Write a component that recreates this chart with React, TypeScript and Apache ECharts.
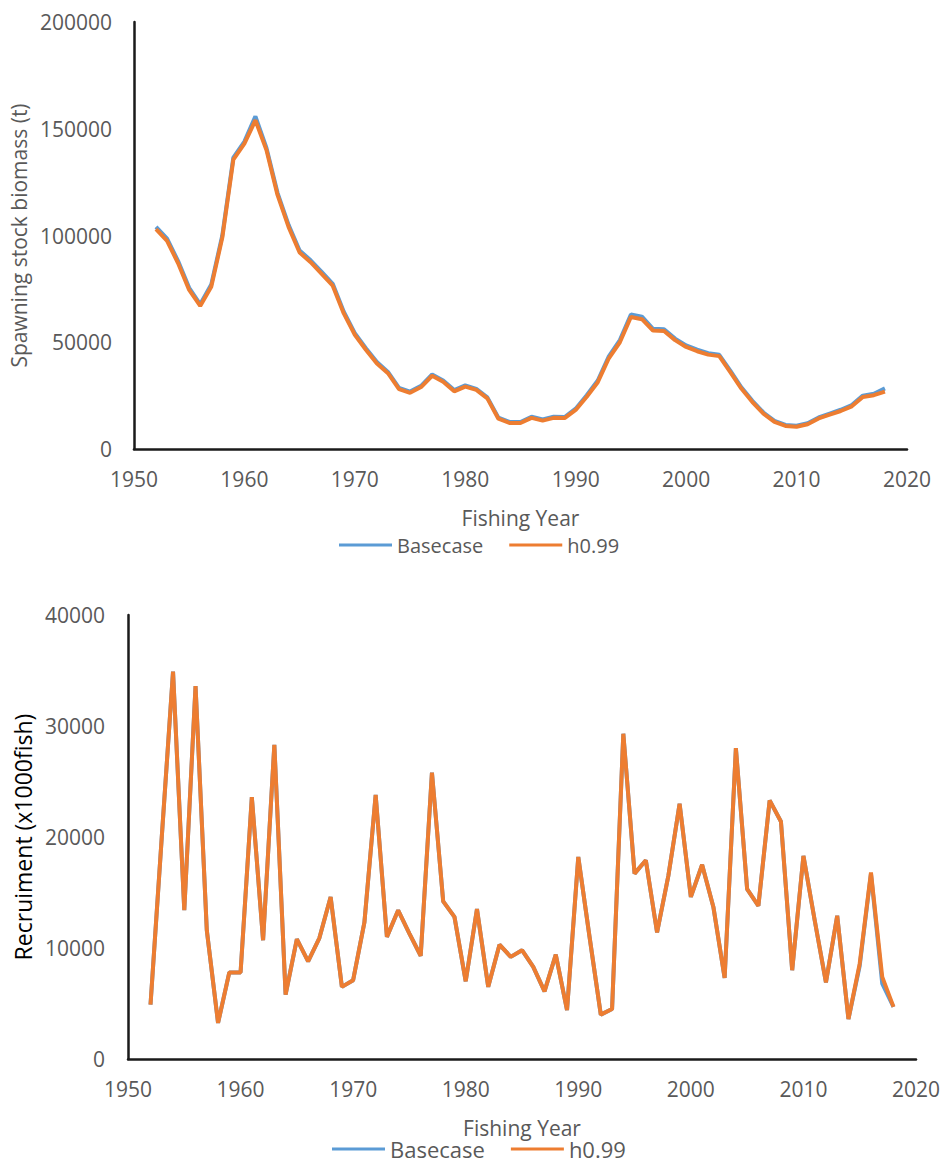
import React, { useEffect, useRef } from "react";
import * as echarts from "echarts";

const years = [
  1952, 1953, 1954, 1955, 1956, 1957, 1958, 1959, 1960, 1961,
  1962, 1963, 1964, 1965, 1966, 1967, 1968, 1969, 1970, 1971,
  1972, 1973, 1974, 1975, 1976, 1977, 1978, 1979, 1980, 1981,
  1982, 1983, 1984, 1985, 1986, 1987, 1988, 1989, 1990, 1991,
  1992, 1993, 1994, 1995, 1996, 1997, 1998, 1999, 2000, 2001,
  2002, 2003, 2004, 2005, 2006, 2007, 2008, 2009, 2010, 2011,
  2012, 2013, 2014, 2015, 2016, 2017, 2018,
];

const ssbBasecase = [
  104000, 98500, 88000, 75500, 67800, 77000, 100000, 136500, 144000, 155800,
  141000, 120000, 105000, 93000, 88400, 83000, 77400, 64300, 54200, 47200,
  40700, 36100, 28600, 26900, 29600, 34900, 32100, 27600, 29800, 28200,
  24200, 14700, 12700, 12600, 15100, 13800, 15100, 15000, 18900, 25200,
  32100, 43400, 51000, 63000, 62000, 56300, 56100, 51700, 48500, 46500,
  44900, 44100, 36700, 28900, 22600, 17100, 13200, 11300, 10900, 12100,
  14800, 16600, 18400, 20600, 25000, 25900, 28400,
];

const ssbH099 = [
  103000, 97500, 87000, 74500, 67000, 76000, 99000, 135500, 143000, 154000,
  140000, 119000, 104000, 92000, 87500, 82000, 76500, 63500, 53500, 46500,
  40000, 35500, 28000, 26300, 29000, 34300, 31500, 27000, 29200, 27700,
  23700, 14200, 12200, 12200, 14600, 13300, 14600, 14500, 18300, 24500,
  31300, 42500, 50000, 61800, 60800, 55500, 55300, 51000, 47800, 45800,
  44200, 43500, 36000, 28300, 22000, 16600, 12700, 10800, 10400, 11600,
  14300, 16100, 17800, 20000, 24400, 25200, 26900,
];

const recBasecase = [
  4900, 20000, 34900, 13400, 33600, 11600, 3250, 7800, 7800, 23600,
  10700, 28300, 5800, 10800, 8800, 10900, 14600, 6500, 7100, 12300,
  23800, 11000, 13400, 11300, 9300, 25800, 14200, 12800, 7000, 13500,
  6500, 10300, 9200, 9800, 8300, 6100, 9400, 4400, 18200, 11000,
  4000, 4500, 29300, 16700, 17900, 11400, 16500, 23000, 14600, 17500,
  13700, 7300, 28000, 15300, 13800, 23300, 21400, 8000, 18300, 12500,
  6900, 12900, 3600, 8400, 16700, 6800, 4700,
];

const recH099 = [
  4900, 20000, 34900, 13400, 33600, 11600, 3250, 7800, 7800, 23600,
  10700, 28300, 5800, 10800, 8800, 10900, 14600, 6500, 7100, 12300,
  23800, 11000, 13400, 11300, 9300, 25800, 14200, 12800, 7000, 13500,
  6500, 10300, 9200, 9800, 8300, 6100, 9400, 4400, 18200, 11000,
  4000, 4500, 29300, 16700, 17900, 11400, 16500, 23000, 14600, 17500,
  13700, 7300, 28000, 15300, 13800, 23300, 21400, 8000, 18300, 12500,
  6900, 12900, 3600, 8600, 16800, 7400, 4700,
];

const seriesNames = ["Basecase", "h0.99"];
const colors = ["#5B9BD5", "#ED7D31"];

const FONT = "'Open Sans', 'Liberation Sans', sans-serif";
const GRAY = "#595959";

function pairs(xs: number[], ys: number[]) {
  return xs.map((x, i) => [x, ys[i]]);
}

export default function App() {
  const ref = useRef<HTMLDivElement>(null);
  useEffect(() => {
    if (!ref.current) return;
    const chart = echarts.init(ref.current, undefined, { renderer: "svg" });
    const axisLine = { show: true, onZero: false, lineStyle: { color: "#1a1a1a", width: 2.5 } };
    const plain = (v: number) => String(v);
    const xAxisBase = (gridIndex: number) => ({
      gridIndex,
      type: "value",
      min: 1950,
      max: 2020,
      interval: 10,
      axisLine,
      axisTick: { show: false },
      splitLine: { show: false },
      axisLabel: { color: GRAY, fontSize: 21, fontFamily: FONT, margin: 19, formatter: plain },
      name: "Fishing Year",
      nameLocation: "middle",
      nameGap: 58,
      nameTextStyle: { color: GRAY, fontSize: 21, fontFamily: FONT },
    });
    const lineSeries = (name: string, color: string, data: number[][], idx: number) => ({
      name,
      type: "line",
      xAxisIndex: idx,
      yAxisIndex: idx,
      data,
      symbol: "none",
      lineStyle: { color, width: 4 },
      itemStyle: { color },
    });
    const legendBase = (left: number, top: number, fs: number, lh: number) => ({
      data: seriesNames,
      left,
      top,
      padding: 0,
      icon: "rect",
      itemWidth: 53,
      itemHeight: 3,
      itemGap: 26,
      textStyle: { color: GRAY, fontSize: fs, fontFamily: FONT, lineHeight: lh },
    });
    chart.setOption({
      animation: false,
      textStyle: { fontFamily: FONT },
      grid: [
        { left: 131, top: 22, width: 776, height: 427 },
        { left: 128, top: 615, width: 788, height: 444 },
      ],
      xAxis: [xAxisBase(0), xAxisBase(1)],
      yAxis: [
        {
          gridIndex: 0,
          type: "value",
          min: 0,
          max: 200000,
          interval: 50000,
          axisLine,
          axisTick: { show: false },
          splitLine: { show: false },
          axisLabel: { color: GRAY, fontSize: 21, fontFamily: FONT, margin: 22, formatter: plain },
          name: "Spawning stock biomass (t)",
          nameLocation: "middle",
          nameGap: 98,
          nameTextStyle: { color: GRAY, fontSize: 21, fontFamily: FONT },
        },
        {
          gridIndex: 1,
          type: "value",
          min: 0,
          max: 40000,
          interval: 10000,
          axisLine,
          axisTick: { show: false },
          splitLine: { show: false },
          axisLabel: { color: GRAY, fontSize: 21, fontFamily: FONT, margin: 23, formatter: plain },
          name: "Recruiment (x1000fish)",
          nameLocation: "middle",
          nameGap: 94,
          nameTextStyle: { color: "#000", fontSize: 23, fontFamily: FONT },
        },
      ],
      legend: [legendBase(339, 534, 20, 22), legendBase(332, 1138, 22, 22)],
      series: [
        lineSeries(seriesNames[0], colors[0], pairs(years, ssbBasecase), 0),
        lineSeries(seriesNames[1], colors[1], pairs(years, ssbH099), 0),
        lineSeries(seriesNames[0], colors[0], pairs(years, recBasecase), 1),
        lineSeries(seriesNames[1], colors[1], pairs(years, recH099), 1),
      ],
    });
    return () => chart.dispose();
  }, []);
  return (
    <div
      ref={ref}
      style={{ position: "absolute", left: 0, top: 0, width: 947, height: 1164, background: "#fff" }}
    />
  );
}
